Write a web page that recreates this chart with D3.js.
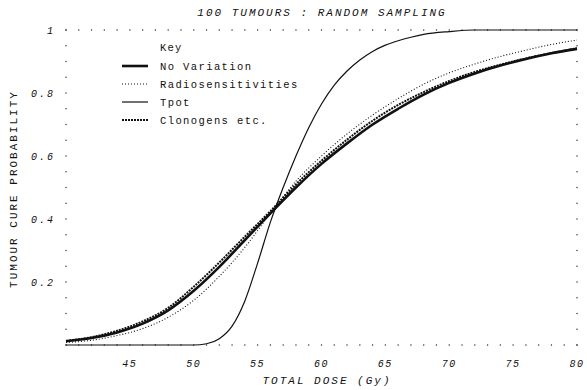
<!DOCTYPE html>
<html>
<head>
<meta charset="utf-8">
<script src="https://cdn.jsdelivr.net/npm/d3@7"></script>
<style>
  body { margin: 0; background: #fff; }
  svg { display: block; }
  text { font-family: "Liberation Mono", "DejaVu Sans Mono", monospace; fill: #111; }
</style>
</head>
<body>
<svg id="chart"></svg>
<script>
// doses (Gy) for the three broad curves
const doses = [40, 42, 44, 46, 48, 50, 52, 54, 56, 58, 60, 62, 64, 66, 68, 70, 72, 74, 76, 78, 80];
const noVariation = [0.012, 0.022, 0.04, 0.068, 0.11, 0.172, 0.248, 0.333, 0.418, 0.5, 0.575, 0.64, 0.7, 0.75, 0.795, 0.832, 0.862, 0.887, 0.908, 0.926, 0.94];
const radiosens = [0.008, 0.015, 0.03, 0.052, 0.088, 0.142, 0.218, 0.31, 0.418, 0.52, 0.6, 0.67, 0.73, 0.782, 0.828, 0.864, 0.892, 0.916, 0.936, 0.954, 0.968];
const clonogens = [0.013, 0.025, 0.045, 0.075, 0.118, 0.185, 0.262, 0.344, 0.425, 0.51, 0.585, 0.652, 0.712, 0.762, 0.803, 0.838, 0.867, 0.89, 0.91, 0.927, 0.942];
// Tpot curve is much steeper, so read at finer steps
const tpotDoses = [40, 50, 51, 52, 53, 54, 55, 56, 57, 58, 59, 60, 61, 62, 63, 64, 65, 66, 67, 68, 70, 72, 80];
const tpot = [0, 0, 0.004, 0.02, 0.06, 0.14, 0.26, 0.39, 0.5, 0.6, 0.69, 0.765, 0.825, 0.87, 0.905, 0.932, 0.952, 0.966, 0.977, 0.986, 0.995, 1, 1];

const xTicks = [45, 50, 55, 60, 65, 70, 75, 80];
const yTicks = [0.2, 0.4, 0.6, 0.8, 1];
const keyNames = ["No Variation", "Radiosensitivities", "Tpot", "Clonogens etc."];

const w = 587, h = 390;
const svg = d3.select("#chart").attr("width", w).attr("height", h);

const x = d3.scaleLinear().domain([40, 80]).range([66, 577]);
const y = d3.scaleLinear().domain([0, 1]).range([345, 30]);

const styles = [
  { width: 2.6, dash: null },
  { width: 1.1, dash: "1,2" },
  { width: 1.2, dash: null },
  { width: 2, dash: "2,1" },
];

// dotted frame: one dot per Gy and per 0.05
const gDots = svg.append("g").attr("fill", "#222");
const gy = d3.range(0, 41).map(i => 40 + i);
const vy = d3.range(0, 21).map(i => i * 0.05);
gDots.selectAll(".db").data(gy).join("rect")
  .attr("x", d => x(d) - 0.6).attr("y", y(0) - 0.6).attr("width", 1.2).attr("height", 1.2);
gDots.selectAll(".dt").data(gy).join("rect")
  .attr("x", d => x(d) - 0.6).attr("y", y(1) - 0.6).attr("width", 1.2).attr("height", 1.2);
gDots.selectAll(".dl").data(vy).join("rect")
  .attr("x", x(40) - 0.6).attr("y", d => y(d) - 0.6).attr("width", 1.2).attr("height", 1.2);
gDots.selectAll(".dr").data(vy).join("rect")
  .attr("x", x(80) - 0.6).attr("y", d => y(d) - 0.6).attr("width", 1.2).attr("height", 1.2);

// tick labels
svg.append("g").selectAll("text").data(xTicks).join("text")
  .attr("x", d => x(d)).attr("y", 367)
  .attr("text-anchor", "middle").attr("font-size", 10).attr("font-style", "italic")
  .attr("letter-spacing", 1.5)
  .text(d => d);
svg.append("g").selectAll("text").data(yTicks).join("text")
  .attr("x", 55).attr("y", d => y(d) + 4)
  .attr("text-anchor", "end").attr("font-size", 10).attr("font-style", "italic")
  .attr("letter-spacing", 2)
  .text(d => d === 1 ? "1" : d3.format(".1f")(d));

// curves
const line = d3.line().curve(d3.curveMonotoneX);
const series = [
  doses.map((d, i) => [x(d), y(noVariation[i])]),
  doses.map((d, i) => [x(d), y(radiosens[i])]),
  tpotDoses.map((d, i) => [x(d), y(tpot[i])]),
  doses.map((d, i) => [x(d), y(clonogens[i])]),
];
svg.append("g").selectAll("path").data(series).join("path")
  .attr("d", d => line(d))
  .attr("fill", "none").attr("stroke", "#111")
  .attr("stroke-width", (d, i) => styles[i].width)
  .attr("stroke-dasharray", (d, i) => styles[i].dash);

// key
const key = svg.append("g");
key.append("text").attr("x", 160).attr("y", 51).attr("font-size", 10.5)
  .attr("letter-spacing", 1.2).text("Key");
const rows = key.selectAll("g").data(keyNames).join("g")
  .attr("transform", (d, i) => `translate(0,${66 + i * 18})`);
rows.append("line").attr("x1", 122).attr("x2", 148).attr("y1", 0).attr("y2", 0)
  .attr("stroke", "#111")
  .attr("stroke-width", (d, i) => styles[i].width)
  .attr("stroke-dasharray", (d, i) => styles[i].dash);
rows.append("text").attr("x", 160).attr("y", 4).attr("font-size", 10.5)
  .attr("letter-spacing", 1.4).text(d => d);

// titles
svg.append("text").attr("x", 322).attr("y", 16).attr("text-anchor", "middle")
  .attr("font-size", 11).attr("font-style", "italic").attr("letter-spacing", 2)
  .text("100 TUMOURS : RANDOM SAMPLING");
svg.append("text").attr("x", 327).attr("y", 384).attr("text-anchor", "middle")
  .attr("font-size", 11).attr("font-style", "italic").attr("letter-spacing", 2)
  .text("TOTAL DOSE (Gy)");
svg.append("text").attr("transform", "translate(17,189) rotate(-90)")
  .attr("text-anchor", "middle").attr("font-size", 11).attr("letter-spacing", 2)
  .text("TUMOUR CURE PROBABILITY");
</script>
</body>
</html>
